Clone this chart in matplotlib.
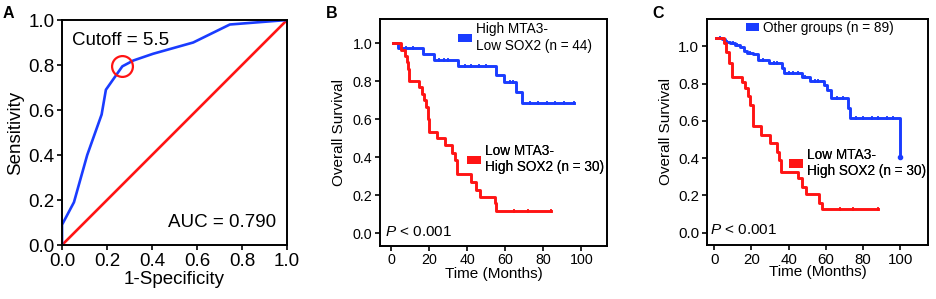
import matplotlib
matplotlib.use('Agg')
import matplotlib.pyplot as plt
from matplotlib.patches import Patch
import numpy as np

plt.rcParams['font.family'] = ['Liberation Sans', 'DejaVu Sans']
plt.rcParams['mathtext.fontset'] = 'custom'
plt.rcParams['mathtext.it'] = 'Liberation Sans:italic'
plt.rcParams['mathtext.rm'] = 'Liberation Sans'

BLUE = '#1a3cff'
RED = '#ff1414'

# ROC curve (panel A)
roc_fpr = [0.0, 0.0, 0.053, 0.112, 0.176, 0.195, 0.268, 0.317, 0.405, 0.583, 0.746, 1.0]
roc_tpr = [0.0, 0.09, 0.19, 0.40, 0.58, 0.69, 0.794, 0.82, 0.85, 0.90, 0.98, 1.0]
cutoff_point = (0.268, 0.794)

# Kaplan-Meier, panel B
b_blue_t = [1.2, 3.8, 16.6, 22.5, 35.3, 55.4, 59.3, 65.9, 69.0, 96.0]
b_blue_s = [1.0, 0.974, 0.942, 0.912, 0.88, 0.833, 0.798, 0.746, 0.686, 0.686]
b_blue_cens_t = [8.0, 11.7, 25.0, 27.6, 30.0, 38.8, 42.0, 46.5, 50.0, 62.5, 64.0,
                 73.0, 77.5, 81.8, 86.0, 91.0, 96.0]

b_red_t = [1.0, 5.5, 7.3, 8.3, 8.9, 9.5, 14.5, 16.2, 17.5, 18.5, 19.3, 20.1, 24.3,
           28.3, 32.3, 33.6, 34.5, 42.3, 44.9, 46.7, 54.5, 55.0, 84.3]
b_red_s = [1.0, 0.967, 0.933, 0.9, 0.867, 0.8, 0.772, 0.733, 0.70, 0.667, 0.60, 0.535,
           0.50, 0.465, 0.424, 0.386, 0.31, 0.272, 0.228, 0.193, 0.158, 0.119, 0.119]
b_red_cens_t = [64.5, 72.0, 84.3]

# Kaplan-Meier, panel C
c_blue_t = [1.1, 4.1, 5.9, 8.6, 11.3, 14.0, 15.8, 17.6, 21.1, 23.8, 29.2, 36.4, 37.6,
            47.1, 51.6, 58.8, 60.6, 62.7, 71.7, 72.8, 100.0, 100.0]
c_blue_s = [1.046, 1.037, 1.024, 1.016, 1.006, 0.994, 0.976, 0.965, 0.957, 0.926, 0.908,
            0.881, 0.855, 0.836, 0.813, 0.792, 0.765, 0.721, 0.667, 0.613, 0.613, 0.408]
c_blue_cens_t = [3.0, 7.0, 10.0, 12.5, 19.0, 26.0, 32.0, 34.0, 40.0, 42.5, 45.0, 49.0,
                 54.0, 56.0, 66.0, 69.0, 76.0, 80.0, 85.0, 88.0, 93.0, 96.0]

c_red_t = [1.1, 5.0, 6.5, 8.2, 9.5, 14.9, 16.3, 18.0, 19.2, 21.1, 25.1, 30.1, 34.0,
           35.1, 35.8, 45.3, 47.1, 49.5, 56.6, 58.1, 88.3]
c_red_s = [1.046, 1.016, 0.971, 0.908, 0.836, 0.81, 0.774, 0.735, 0.685, 0.572, 0.524,
           0.479, 0.434, 0.39, 0.327, 0.292, 0.247, 0.208, 0.161, 0.125, 0.125]
c_red_cens_t = [67.5, 74.5, 88.3]

fig = plt.figure(figsize=(9.37, 2.99), dpi=100)
axA = fig.add_axes([0.0662, 0.1806, 0.2401, 0.7525])
axB = fig.add_axes([0.4055, 0.1786, 0.2423, 0.7579])
axC = fig.add_axes([0.7545, 0.1806, 0.2358, 0.7559])

for ax in (axA, axB, axC):
    for sp in ax.spines.values():
        sp.set_linewidth(1.4)
    ax.tick_params(direction='out', width=1.2, length=3.5, color='black')

# --- A: ROC
axA.plot([0, 1], [0, 1], color=RED, lw=1.9)
axA.plot(roc_fpr, roc_tpr, color=BLUE, lw=1.9)
axA.plot(*cutoff_point, 'o', ms=15, mfc='none', mec=RED, mew=1.6)
axA.set_xlim(0, 1)
axA.set_ylim(0, 1)
ticks = np.arange(0, 1.01, 0.2)
axA.set_xticks(ticks)
axA.set_yticks(ticks)
axA.set_xticklabels([f'{t:.1f}' for t in ticks], fontsize=13.5)
axA.set_yticklabels([f'{t:.1f}' for t in ticks], fontsize=13.5)
axA.tick_params(pad=2)
axA.set_xlabel('1-Specificity', fontsize=13.5, labelpad=1)
axA.set_ylabel('Sensitivity', fontsize=13.5, labelpad=3)
axA.text(0.043, 0.908, 'Cutoff = 5.5', fontsize=13.5, va='center', ha='left')
axA.text(0.953, 0.10, 'AUC = 0.790', fontsize=13.5, va='center', ha='right')
fig.text(8 / 937, 1 - 14 / 299, 'A', fontsize=11.5, fontweight='bold', ha='center', va='center')


def km(ax, t, s, cens_t, color):
    ax.step(t, s, where='post', color=color, lw=2.1)
    t_arr = np.array(t)
    s_arr = np.array(s)
    cs = [s_arr[np.searchsorted(t_arr, c, side='right') - 1] for c in cens_t]
    ax.plot(cens_t, cs, ls='none', marker='|', ms=3.5, mew=1.3, color=color)


def km_axes(ax, xlim, ylim, tick_fs, xlabel_pad, ylabel_pad):
    ax.set_xlim(*xlim)
    ax.set_ylim(*ylim)
    ax.set_xticks(np.arange(0, 101, 20))
    ax.set_yticks(ticks)
    ax.set_yticklabels([f'{t:.1f}' for t in ticks], fontsize=tick_fs)
    ax.set_xticklabels([str(t) for t in range(0, 101, 20)], fontsize=tick_fs)
    ax.tick_params(pad=2)
    ax.set_xlabel('Time (Months)', fontsize=11, labelpad=xlabel_pad)
    ax.set_ylabel('Overall Survival', fontsize=11, labelpad=ylabel_pad)


def group_legend(ax, label, color, x, y):
    leg = ax.legend(handles=[Patch(facecolor=color, edgecolor='none', label=label)],
                    loc='center left', bbox_to_anchor=(x, y), frameon=False,
                    fontsize=9.8, handlelength=1.0, handleheight=0.55,
                    handletextpad=0.3, borderpad=0, borderaxespad=0)
    ax.add_artist(leg)


# --- B
km(axB, b_blue_t, b_blue_s, b_blue_cens_t, BLUE)
km(axB, b_red_t, b_red_s, b_red_cens_t, RED)
km_axes(axB, (-5.8, 113.5), (-0.065, 1.128), 10.3, 0, 5)
group_legend(axB, 'High MTA3-\nLow SOX2 (n = 44)', BLUE, 0.344, 0.918)
group_legend(axB, 'Low MTA3-\nHigh SOX2 (n = 30)', RED, 0.383, 0.381)
axB.text(0.022, 0.061, r'$\it{P}$ < 0.001', transform=axB.transAxes,
         fontsize=11, va='center', ha='left')
fig.text(331.7 / 937, 1 - 13.3 / 299, 'B', fontsize=11.5, fontweight='bold', ha='center', va='center')

# --- C
km(axC, c_blue_t, c_blue_s, c_blue_cens_t, BLUE)
axC.plot(c_blue_t[-1], c_blue_s[-1], 'o', ms=3, color=BLUE)
km(axC, c_red_t, c_red_s, c_red_cens_t, RED)
km_axes(axC, (-3.9, 114.9), (-0.066, 1.146), 10.8, -1, 4)
group_legend(axC, 'Other groups (n = 89)', BLUE, 0.175, 0.96)
group_legend(axC, 'Low MTA3-\nHigh SOX2 (n = 30)', RED, 0.372, 0.364)
axC.text(0.014, 0.066, r'$\it{P}$ < 0.001', transform=axC.transAxes,
         fontsize=11, va='center', ha='left')
fig.text(658 / 937, 1 - 13.3 / 299, 'C', fontsize=11.5, fontweight='bold', ha='center', va='center')

fig.savefig('out.png', dpi=100)
